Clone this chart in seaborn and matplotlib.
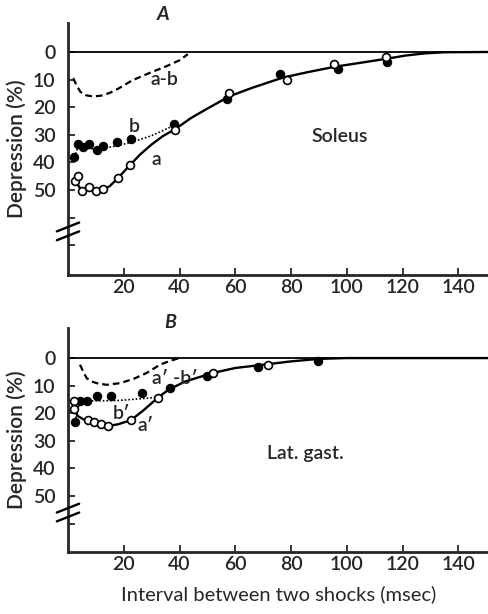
import matplotlib
matplotlib.use("Agg")
import matplotlib.pyplot as plt
import seaborn as sns

# ---- panel A (Soleus) ----
a_open_t = [2.5, 3.7, 4.9, 7.5, 10.0, 12.7, 18.0, 22.2, 38.4, 57.8, 78.4, 95.3, 114.2]
a_open_d = [46.6, 44.9, 50.4, 48.8, 50.2, 49.7, 45.5, 41.0, 28.3, 15.0, 10.2, 4.3, 1.7]
b_fill_t = [2.3, 3.7, 5.5, 7.5, 10.3, 12.7, 17.7, 22.5, 38.0, 57.1, 76.0, 96.9, 114.4]
b_fill_d = [38.2, 33.3, 34.5, 33.3, 35.5, 34.1, 32.5, 31.6, 26.1, 17.1, 8.0, 6.3, 3.5]

a_curve_t = [2.5, 3.8, 4.9, 6.5, 8.5, 10.5, 12.7, 15.0, 18.0, 22.2, 26.0, 30.0, 34.0, 38.4,
             44.0, 50.0, 58.0, 66.0, 77.0, 86.0, 96.0, 105.0, 114.0, 121.0, 128.0, 135.0, 151.0]
a_curve_d = [46.6, 48.5, 50.2, 49.8, 49.9, 50.1, 49.8, 48.6, 45.6, 41.0, 37.0, 33.5, 30.5, 28.0,
             24.0, 20.5, 16.0, 13.0, 9.3, 7.3, 5.3, 3.9, 2.5, 1.3, 0.5, 0.1, 0.0]
b_curve_t = [2.3, 3.7, 5.5, 8.0, 11.0, 15.0, 20.0, 25.0, 30.0, 34.0, 38.0]
b_curve_d = [38.2, 34.0, 34.8, 35.0, 35.2, 34.5, 33.4, 32.0, 30.3, 28.5, 26.6]
ab_curve_t = [1.9, 3.0, 4.5, 6.5, 9.0, 12.0, 15.0, 18.0, 23.0, 29.0, 35.0, 40.0, 43.0]
ab_curve_d = [9.5, 12.0, 14.5, 15.7, 16.1, 15.8, 14.8, 13.3, 10.3, 7.7, 5.3, 3.0, 0.8]

# ---- panel B (Lat. gast.) ----
a2_open_t = [2.2, 2.0, 7.2, 9.5, 11.8, 14.5, 22.6, 32.2, 51.9, 71.8]
a2_open_d = [15.5, 18.5, 22.6, 23.2, 23.8, 24.6, 22.5, 14.4, 5.4, 2.4]
b2_fill_t = [2.5, 4.3, 6.9, 10.5, 15.4, 26.6, 36.6, 49.8, 68.2, 89.7]
b2_fill_d = [23.0, 15.4, 15.4, 13.9, 13.9, 12.7, 10.9, 6.6, 3.1, 0.9]

a2_curve_t = [2.2, 2.0, 3.5, 5.5, 7.2, 9.5, 11.8, 14.5, 18.0, 22.6, 27.0, 32.2, 36.0, 42.0,
              51.9, 60.0, 71.8, 80.0, 90.0, 100.0, 151.0]
a2_curve_d = [15.5, 18.5, 21.0, 22.2, 22.6, 23.2, 23.8, 24.6, 24.0, 22.5, 19.0, 14.4, 11.5, 8.5,
              5.4, 3.6, 2.2, 1.2, 0.3, 0.0, 0.0]
b2_curve_t = [2.5, 4.3, 7.0, 12.0, 18.0, 24.0, 28.0, 32.2]
b2_curve_d = [23.0, 15.5, 15.5, 15.5, 15.4, 14.9, 14.6, 14.2]
ab2_curve_t = [4.3, 5.5, 6.7, 8.5, 10.3, 13.9, 18.6, 23.4, 28.2, 33.0, 36.6, 40.0]
ab2_curve_d = [2.4, 5.0, 7.3, 8.5, 9.1, 9.7, 9.1, 7.6, 5.4, 2.4, 1.0, 0.0]

xticks = [20, 40, 60, 80, 100, 120, 140]
yticks_lab = [0, 10, 20, 30, 40, 50]

sns.set_style("ticks")
plt.rcParams['font.family'] = ['Lato', 'DejaVu Sans']

fig = plt.figure(figsize=(4.89, 6.14), dpi=100)
axA = fig.add_axes([68 / 489, 1 - 275 / 614, 1 - 68 / 489, 252 / 614])
axB = fig.add_axes([68 / 489, 1 - 552 / 614, 1 - 68 / 489, 224 / 614])


def panel(ax, open_t, open_d, fill_t, fill_d, a_t, a_d, b_t, b_d, ab_t, ab_d,
          ylim, extra_ticks, brk):
    ax.axhline(0, color='black', lw=1.3, zorder=1)
    sns.lineplot(x=a_t, y=a_d, sort=False, estimator=None, ax=ax, color='black', lw=1.7)
    sns.lineplot(x=b_t, y=b_d, sort=False, estimator=None, ax=ax, color='black', lw=1.2,
                 linestyle=(0, (1, 1.2)))
    sns.lineplot(x=ab_t, y=ab_d, sort=False, estimator=None, ax=ax, color='black', lw=1.6,
                 linestyle=(0, (3.0, 1.8)))
    sns.scatterplot(x=fill_t, y=fill_d, ax=ax, s=36, color='black', edgecolor='black',
                    linewidth=0.8, zorder=4)
    sns.scatterplot(x=open_t, y=open_d, ax=ax, s=32, color='white', edgecolor='black',
                    linewidth=1.2, zorder=5)
    ax.set_xlim(0, 151)
    ax.set_ylim(*ylim)
    ax.set_xticks(xticks)
    ax.set_yticks(yticks_lab + extra_ticks)
    ax.set_yticklabels([str(v) for v in yticks_lab] + [''] * len(extra_ticks))
    ax.tick_params(axis='both', direction='in', length=5, width=1.3, labelsize=14)
    ax.tick_params(axis='x', pad=3)
    ax.tick_params(axis='y', pad=9)
    for t in ax.get_xticklabels() + ax.get_yticklabels():
        t.set_fontweight('semibold')
    sns.despine(ax=ax)
    ax.spines['left'].set_linewidth(2)
    ax.spines['bottom'].set_linewidth(2)
    # axis break marks
    for off in (-1.6, 1.6):
        ax.plot([-4.0, 4.0], [brk + off + 1.6, brk + off - 1.6], color='black', lw=1.7,
                clip_on=False, zorder=7)
    ax.set_ylabel('Depression (%)', fontsize=15, fontweight='semibold', labelpad=4)


panel(axA, a_open_t, a_open_d, b_fill_t, b_fill_d, a_curve_t, a_curve_d,
      b_curve_t, b_curve_d, ab_curve_t, ab_curve_d, (80.8, -10.5), [60, 70], 65)
panel(axB, a2_open_t, a2_open_d, b2_fill_t, b2_fill_d, a2_curve_t, a2_curve_d,
      b2_curve_t, b2_curve_d, ab2_curve_t, ab2_curve_d, (70.3, -10.9), [60], 56)

lab = dict(fontsize=14, ha='center', va='center', fontweight='semibold')
axA.text(34.6, 9.8, 'a-b', **lab)
axA.text(23.7, 27.0, 'b', **lab)
axA.text(31.6, 38.8, 'a', **lab)
axA.text(97.5, 30.7, 'Soleus', **lab)
axB.text(38.4, 7.3, "a\u2032 -b\u2032", **lab)
axB.text(19.2, 20.0, "b\u2032", **lab)
axB.text(27.8, 24.6, "a\u2032", **lab)
axB.text(85.0, 34.5, 'Lat. gast.', **lab)

fig.text(163 / 489, 1 - 15 / 614, 'A', fontsize=14, fontstyle='italic', fontweight='bold',
         ha='center', va='center')
fig.text(170 / 489, 1 - 323 / 614, 'B', fontsize=14, fontstyle='italic', fontweight='bold',
         ha='center', va='center')
axB.set_xlabel('Interval between two shocks (msec)', fontsize=14.5, labelpad=9)

fig.savefig('out.png', dpi=100)
